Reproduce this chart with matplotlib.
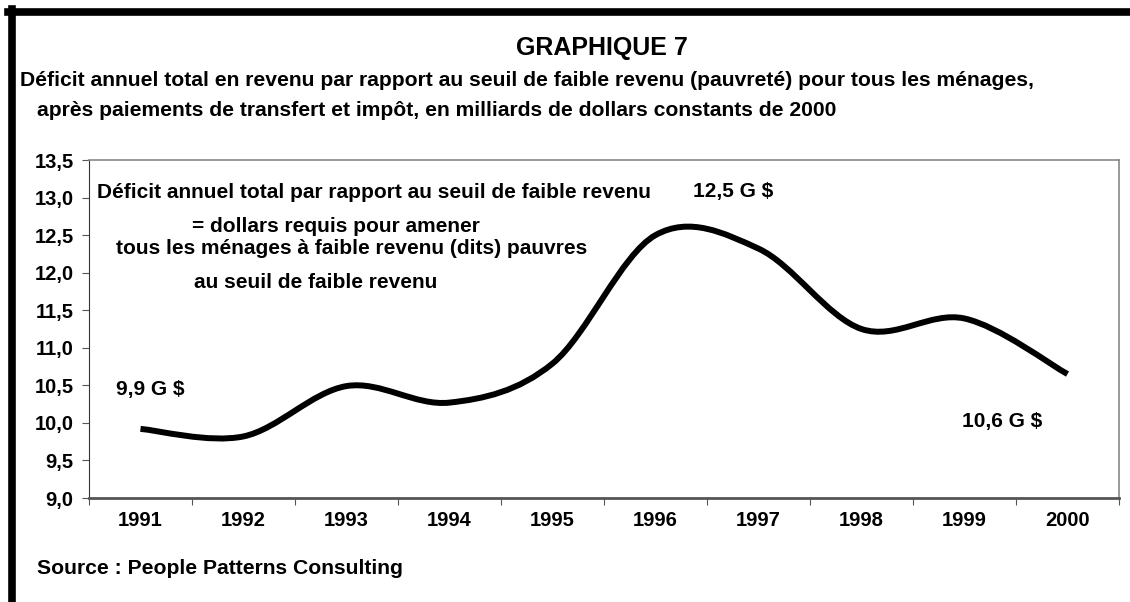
import matplotlib.pyplot as plt
import numpy as np
from matplotlib.path import Path
from matplotlib.patches import PathPatch

plt.rcParams['font.family'] = ['Liberation Sans', 'DejaVu Sans']
plt.rcParams['font.weight'] = 'bold'

years = ['1991', '1992', '1993', '1994', '1995', '1996', '1997', '1998', '1999', '2000']
deficit = [9.92, 9.82, 10.49, 10.27, 10.79, 12.50, 12.32, 11.25, 11.39, 10.65]
yticks = [9.0, 9.5, 10.0, 10.5, 11.0, 11.5, 12.0, 12.5, 13.0, 13.5]

W, H = 1130, 602
fig = plt.figure(figsize=(W / 100, H / 100), dpi=100)


def px(x, y):
    return x / W, 1 - y / H


# axes placed in pixel terms
l, r, t, b = 89, 1119, 160, 498
ax = fig.add_axes([l / W, 1 - b / H, (r - l) / W, (b - t) / H])

# smoothed line like the spreadsheet "smoothed line" option
x = np.arange(len(deficit), dtype=float)
y = np.array(deficit)
xp = np.concatenate([[x[0]], x, [x[-1]]])
yp = np.concatenate([[y[0]], y, [y[-1]]])
verts = [(x[0], y[0])]
codes = [Path.MOVETO]
for i in range(len(x) - 1):
    j = i + 1
    c1 = (x[i] + (xp[j + 1] - xp[j - 1]) / 6, y[i] + (yp[j + 1] - yp[j - 1]) / 6)
    c2 = (x[i + 1] - (xp[j + 2] - xp[j]) / 6, y[i + 1] - (yp[j + 2] - yp[j]) / 6)
    verts += [c1, c2, (x[i + 1], y[i + 1])]
    codes += [Path.CURVE4] * 3
ax.add_patch(PathPatch(Path(verts, codes), facecolor='none', edgecolor='black',
                       lw=4.3, capstyle='butt', joinstyle='round'))

ax.set_xlim(-0.5, len(years) - 0.5)
ax.set_ylim(9.0, 13.5)
ax.set_yticks(yticks)
ax.set_yticklabels([f'{v:.1f}'.replace('.', ',') for v in yticks])
ax.set_xticks(np.arange(len(years) + 1) - 0.5)
ax.set_xticklabels([])
ax.set_xticks(x, minor=True)
ax.set_xticklabels(years, minor=True)
ax.tick_params(axis='x', which='minor', length=0, pad=9, labelsize=14.5)
ax.tick_params(axis='x', which='major', length=5, color='#555555')
ax.tick_params(axis='y', length=5, labelsize=14.5, pad=6, color='#555555')
for s in ['top', 'right']:
    ax.spines[s].set_color('#888888')
    ax.spines[s].set_linewidth(1.2)
ax.spines['left'].set_color('#333333')
ax.spines['bottom'].set_color('#555555')
ax.spines['bottom'].set_linewidth(2)

# frame of the page
fig.add_artist(plt.Line2D([8 / W, 1], [1 - 12 / H] * 2, color='black', lw=5.5))
fig.add_artist(plt.Line2D([11.5 / W] * 2, [1 - 9 / H, 0], color='black', lw=5.5))

fig.text(*px(602, 48), 'GRAPHIQUE 7', fontsize=18, ha='center', va='center')
fig.text(*px(20, 80), 'Déficit annuel total en revenu par rapport au seuil de faible revenu (pauvreté) pour tous les ménages,',
         fontsize=15.2, va='center')
fig.text(*px(37, 110), 'après paiements de transfert et impôt, en milliards de dollars constants de 2000',
         fontsize=15.2, va='center')

fig.text(*px(97, 192), 'Déficit annuel total par rapport au seuil de faible revenu', fontsize=15, va='center')
fig.text(*px(192, 227), '= dollars requis pour amener', fontsize=15, va='center')
fig.text(*px(116, 249), 'tous les ménages à faible revenu (dits) pauvres', fontsize=15, va='center')
fig.text(*px(194, 282), 'au seuil de faible revenu', fontsize=15, va='center')

fig.text(*px(693, 192), '12,5 G $', fontsize=15, va='center')
fig.text(*px(116, 390), '9,9 G $', fontsize=15, va='center')
fig.text(*px(962, 421), '10,6 G $', fontsize=15, va='center')

fig.text(*px(37, 568), 'Source : People Patterns Consulting', fontsize=15.2, va='center')

plt.savefig('out.png', dpi=100)
